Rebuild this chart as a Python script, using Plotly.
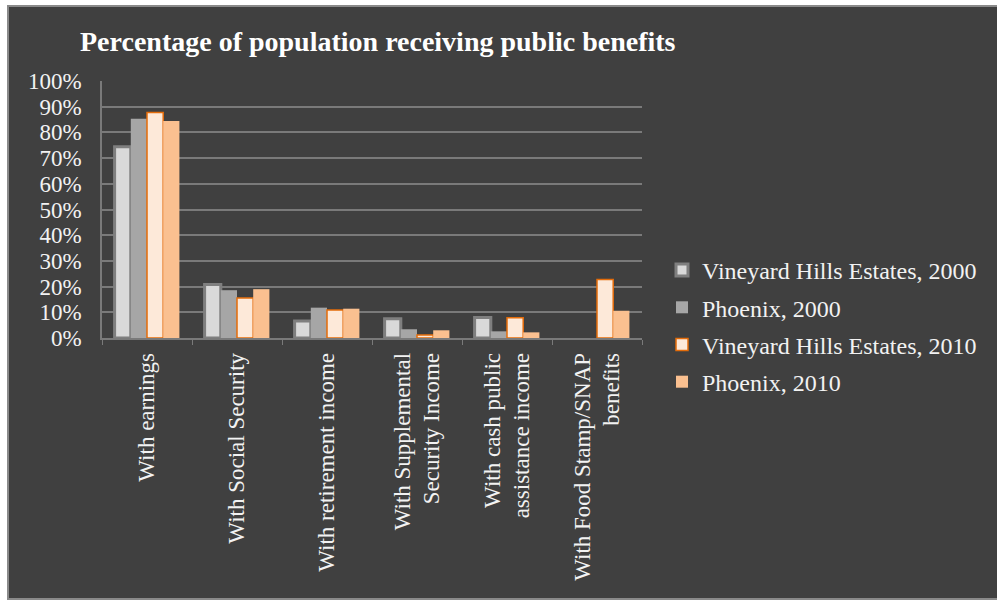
import plotly.graph_objects as go

categories = [
    "With earnings",
    "With Social Security",
    "With retirement income",
    "With Supplemental<br>Security Income",
    "With cash public<br>assistance income",
    "With Food Stamp/SNAP<br>benefits",
]
vhe_2000 = [0.744, 0.208, 0.066, 0.075, 0.080, None]
phx_2000 = [0.853, 0.186, 0.118, 0.034, 0.026, None]
vhe_2010 = [0.877, 0.156, 0.109, 0.012, 0.079, 0.228]
phx_2010 = [0.844, 0.190, 0.114, 0.030, 0.022, 0.106]

series = [
    ("Vineyard Hills Estates, 2000", vhe_2000, "#d9d9d9", "#7f7f7f", 3),
    ("Phoenix, 2000", phx_2000, "#a6a6a6", "#a6a6a6", 0),
    ("Vineyard Hills Estates, 2010", vhe_2010, "#fde9d9", "#e46c0a", 1.5),
    ("Phoenix, 2010", phx_2010, "#fac090", "#fac090", 0),
]

FONT = "Liberation Serif, Times New Roman, serif"
TXT = "#f2f2f2"

fig = go.Figure()
for i, (name, vals, fill, line, lw) in enumerate(series):
    fig.add_trace(go.Bar(
        x=categories, y=vals, name=name,
        marker=dict(color=fill, line=dict(color=line, width=lw)),
        legendgroup=str(i),
    ))

L, R, T, B = 102, 355, 81, 263
W, H = 997, 601
pw, ph = W - L - R, H - T - B

def px_x(p):
    return (p - L) / pw

def px_y(p):
    return (H - B - p) / ph

fig.add_shape(type="rect", xref="paper", yref="paper",
              x0=px_x(8), x1=px_x(1000), y0=px_y(599), y1=px_y(6),
              fillcolor="#404040", line=dict(color="#8a8a8a", width=2),
              layer="below")

fig.update_layout(
    width=W, height=H,
    margin=dict(l=L, r=R, t=T, b=B),
    paper_bgcolor="white",
    plot_bgcolor="rgba(0,0,0,0)",
    barmode="group",
    bargap=0.28,
    bargroupgap=0,
    font=dict(family=FONT, color=TXT, size=22),
    title=dict(text="<b>Percentage of population receiving public benefits</b>",
               font=dict(family=FONT, size=28, color="white"),
               x=80 / W, xanchor="left", xref="container",
               y=1 - 41 / H, yanchor="middle", yref="container"),
    legend=dict(x=px_x(662), xanchor="left", y=px_y(248), yanchor="top",
                font=dict(family=FONT, size=24, color=TXT),
                bgcolor="rgba(0,0,0,0)", traceorder="grouped",
                tracegroupgap=3),
    showlegend=True,
)
fig.update_yaxes(range=[0, 1], dtick=0.1, tickformat=".0%",
                 showgrid=True, gridcolor="#7a7a7a", gridwidth=1.5,
                 showline=True, linecolor="#7a7a7a", linewidth=1.5,
                 zeroline=False, ticks="", ticklabelstandoff=14,
                 tickfont=dict(size=23, color=TXT))
fig.update_xaxes(showline=True, linecolor="#7a7a7a", linewidth=1.5,
                 tickangle=-90, ticks="outside", tickson="boundaries",
                 ticklen=5, tickcolor="#7a7a7a", ticklabelstandoff=4,
                 tickfont=dict(size=23, color=TXT))

fig.write_html("out.html")
